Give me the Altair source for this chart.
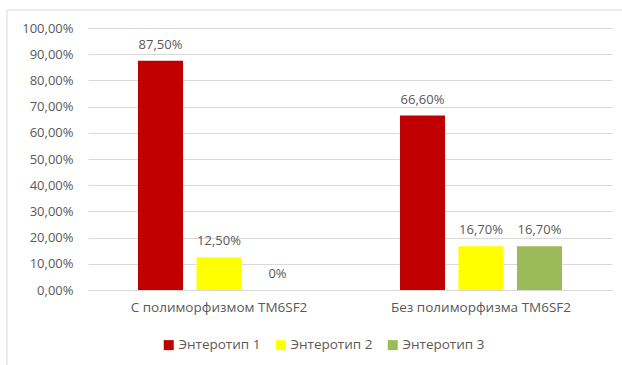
import altair as alt
import pandas as pd

# Groups, series and shares (fractions of 1)
groups = ["С полиморфизмом TM6SF2", "Без полиморфизма TM6SF2"]
series = ["Энтеротип 1", "Энтеротип 2", "Энтеротип 3"]
enterotype_1 = [0.875, 0.666]
enterotype_2 = [0.125, 0.167]
enterotype_3 = [0.0, 0.167]
colors = ["#C00000", "#FFFF00", "#9BBB59"]
y_ticks = [0.0, 0.1, 0.2, 0.3, 0.4, 0.5, 0.6, 0.7, 0.8, 0.9, 1.0]

rows = []
for s, vals in zip(series, [enterotype_1, enterotype_2, enterotype_3]):
    for g, v in zip(groups, vals):
        rows.append({"group": g, "series": s, "value": v})
df = pd.DataFrame(rows)

FONT = "Open Sans"
TEXT = "#595959"
GRID = "#D9D9D9"

x_enc = alt.X("group:N", sort=groups, title=None,
              scale=alt.Scale(paddingInner=0, paddingOuter=0),
              axis=alt.Axis(labelAngle=0, ticks=False, domainColor=GRID,
                            labelPadding=10, labelFontSize=13.5,
                            labelLimit=400,
                            labelColor=TEXT, labelFont=FONT))
# tickCount must not be below the number of explicit values, or Vega thins them
y_enc = alt.Y("value:Q", title=None,
              scale=alt.Scale(domain=[0, 1], nice=False),
              axis=alt.Axis(values=y_ticks, tickCount=20,
                            labelExpr="replace(format(datum.value, '.2%'), '.', ',')",
                            labelOverlap=False,
                            domain=False, ticks=False, gridColor=GRID,
                            labelPadding=15, labelFontSize=13,
                            labelColor=TEXT, labelFont=FONT))
xoff = alt.XOffset("series:N", sort=series,
                   scale=alt.Scale(paddingInner=0.23, paddingOuter=0.855))

base = alt.Chart(df)

bars = base.mark_bar().encode(
    x=x_enc,
    xOffset=xoff,
    y=y_enc,
    color=alt.Color("series:N", sort=series,
                    scale=alt.Scale(domain=series, range=colors),
                    legend=alt.Legend(title=None, orient="none",
                                      direction="horizontal",
                                      legendX=74, legendY=310,
                                      symbolType="square", symbolSize=100,
                                      symbolStrokeWidth=0,
                                      labelFontSize=13.5, labelColor=TEXT,
                                      labelFont=FONT, labelOffset=3,
                                      columnPadding=13)),
)

labels = base.transform_calculate(
    label="datum.value == 0 ? '0%' : replace(format(datum.value, '.2%'), '.', ',')"
).mark_text(baseline="bottom", dy=-9, fontSize=13, color=TEXT, font=FONT).encode(
    x=x_enc,
    xOffset=xoff,
    y=y_enc,
    text="label:N",
)

frame = alt.Chart(pd.DataFrame({"k": [0]}))
top_edge = frame.mark_rule(color=GRID, strokeWidth=1).encode(
    x=alt.value(-81), x2=alt.value(540), y=alt.value(-18))
left_edge = frame.mark_rule(color=GRID, strokeWidth=1).encode(
    x=alt.value(-81), y=alt.value(-18), y2=alt.value(345))

chart = alt.layer(bars, labels, top_edge, left_edge).properties(
    width=524, height=262,
    autosize=alt.AutoSizeParams(type="none"),
    padding={"left": 88, "top": 28, "right": 10, "bottom": 75},
).configure_view(stroke=None)

chart.save("out.html", embed_options={"renderer": "svg", "actions": False})
